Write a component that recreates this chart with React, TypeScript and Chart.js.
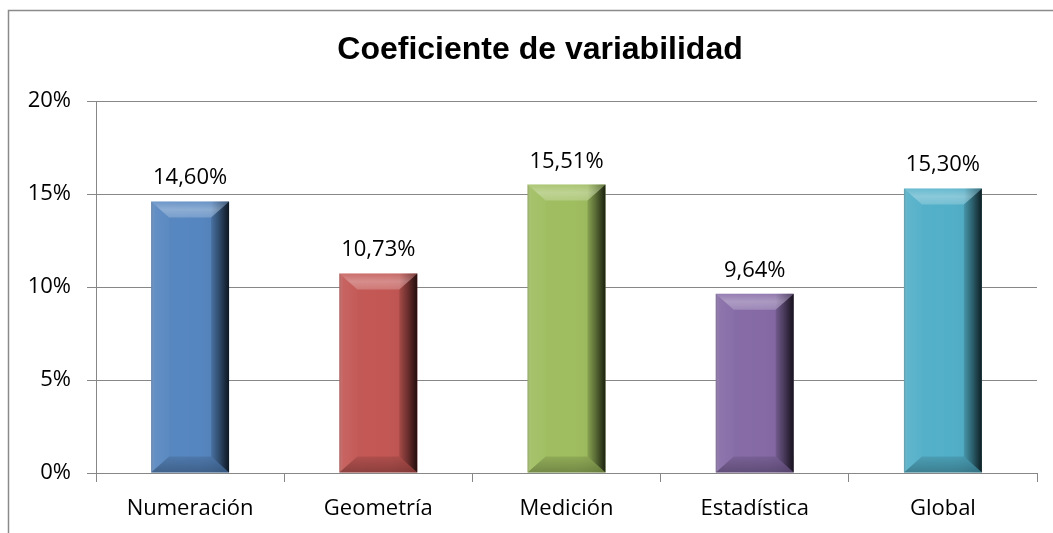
import React, { useEffect, useRef } from "react";
import { Chart, registerables } from "chart.js";

Chart.register(...registerables);

const titleText = "Coeficiente de variabilidad";
const categories = ["Numeración", "Geometría", "Medición", "Estadística", "Global"];
const values = [14.6, 10.73, 15.51, 9.64, 15.3];
const barColors = ["#4F81BD", "#C0504D", "#9BBB59", "#8064A2", "#4BACC6"];
const yMin = 0;
const yMax = 20;
const yStep = 5;

const GRID = "#878787";

const framePlugin = {
  id: "frame",
  afterLayout(chart: any) {
    const tb = chart.titleBlock;
    if (tb) {
      tb.left = 43;
      tb.right = 1037;
      tb.width = tb.right - tb.left;
    }
  },
  beforeDraw(chart: any) {
    const ctx = chart.ctx;
    ctx.save();
    ctx.fillStyle = "#ffffff";
    ctx.fillRect(0, 0, chart.width, chart.height);
    ctx.strokeStyle = "#8a8a8a";
    ctx.lineWidth = 1.5;
    ctx.beginPath();
    ctx.moveTo(8.5, chart.height + 5);
    ctx.lineTo(8.5, 10.5);
    ctx.lineTo(chart.width + 5, 10.5);
    ctx.stroke();
    ctx.restore();
  },
};

function poly(ctx: any, pts: number[][], fill: any) {
  ctx.beginPath();
  ctx.moveTo(pts[0][0], pts[0][1]);
  for (let i = 1; i < pts.length; i++) ctx.lineTo(pts[i][0], pts[i][1]);
  ctx.closePath();
  ctx.fillStyle = fill;
  ctx.fill();
}

const bevelPlugin = {
  id: "bevel",
  afterDatasetsDraw(chart: any) {
    const ctx = chart.ctx;
    const meta = chart.getDatasetMeta(0);
    ctx.save();
    meta.data.forEach((bar: any, i: number) => {
      const p = bar.getProps(["x", "y", "base", "width"], true);
      const l = p.x - p.width / 2;
      const r = p.x + p.width / 2;
      const t = Math.min(p.y, p.base);
      const b = Math.max(p.y, p.base);
      const dx = 18;
      const dy = 16;
      // face shading: slightly darker towards right
      const fg = ctx.createLinearGradient(l, 0, r, 0);
      fg.addColorStop(0, "rgba(255,255,255,0.06)");
      fg.addColorStop(0.6, "rgba(255,255,255,0.04)");
      fg.addColorStop(1, "rgba(0,0,0,0.1)");
      ctx.fillStyle = fg;
      ctx.fillRect(l, t, r - l, b - t);
      // left side
      const lg = ctx.createLinearGradient(l, 0, l + dx, 0);
      lg.addColorStop(0, "rgba(110,110,110,0.35)");
      lg.addColorStop(0.2, "rgba(255,255,255,0.06)");
      lg.addColorStop(1, "rgba(255,255,255,0.02)");
      poly(ctx, [[l, t], [l + dx, t + dy], [l + dx, b - dy], [l, b]], lg);
      // right side
      const rg = ctx.createLinearGradient(r - dx, 0, r, 0);
      rg.addColorStop(0, "rgba(0,0,0,0.12)");
      rg.addColorStop(0.45, "rgba(0,0,0,0.4)");
      rg.addColorStop(1, "rgba(0,0,0,0.8)");
      poly(ctx, [[r, t], [r - dx, t + dy], [r - dx, b - dy], [r, b]], rg);
      // top
      const tg = ctx.createLinearGradient(0, t, 0, t + dy);
      tg.addColorStop(0, "rgba(255,255,255,0.12)");
      tg.addColorStop(0.5, "rgba(255,255,255,0.32)");
      tg.addColorStop(1, "rgba(255,255,255,0.2)");
      poly(ctx, [[l, t], [r, t], [r - dx, t + dy], [l + dx, t + dy]], tg);
      const tr = ctx.createLinearGradient(r - dx, 0, r, 0);
      tr.addColorStop(0, "rgba(0,0,0,0)");
      tr.addColorStop(1, "rgba(0,0,0,0.35)");
      poly(ctx, [[r - dx, t], [r, t], [r - dx, t + dy]], tr);
      // bottom
      const bg = ctx.createLinearGradient(0, b - dy, 0, b);
      bg.addColorStop(0, "rgba(0,0,0,0.1)");
      bg.addColorStop(1, "rgba(0,0,0,0.28)");
      poly(ctx, [[l, b], [r, b], [r - dx, b - dy], [l + dx, b - dy]], bg);
      // value label
      ctx.fillStyle = "#000000";
      ctx.font = '22px "Open Sans"';
      ctx.textAlign = "center";
      ctx.textBaseline = "alphabetic";
      const label = values[i].toFixed(2).replace(".", ",") + "%";
      ctx.fillText(label, p.x, t - 17);
    });
    ctx.restore();
  },
};

export default function App() {
  const ref = useRef<HTMLCanvasElement | null>(null);
  useEffect(() => {
    document.body.style.margin = "0";
    if (!ref.current) return;
    const chart = new Chart(ref.current, {
      type: "bar",
      data: {
        labels: categories,
        datasets: [
          {
            data: values,
            backgroundColor: barColors,
            borderWidth: 0,
            barPercentage: 0.414,
            categoryPercentage: 1,
          },
        ],
      },
      options: {
        responsive: false,
        animation: false,
        layout: { padding: { left: 0, right: 16, top: 0, bottom: 0 } },
        plugins: {
          legend: { display: false },
          tooltip: { enabled: false },
          title: {
            display: true,
            text: titleText,
            color: "#000000",
            font: { family: '"Liberation Sans", Arial, sans-serif', size: 32, weight: "bold" },
            padding: { top: 31.4, bottom: 31.2 },
          },
        },
        scales: {
          x: {
            afterFit: (s: any) => {
              s.height = 60;
            },
            grid: {
              offset: true,
              drawOnChartArea: false,
              drawTicks: true,
              tickLength: 9,
              color: GRID,
            },
            border: { color: GRID, width: 1 },
            ticks: {
              color: "#000000",
              padding: 14,
              font: { family: '"Open Sans"', size: 22 },
            },
          },
          y: {
            min: yMin,
            max: yMax,
            afterFit: (s: any) => {
              s.width = 96;
            },
            grid: {
              color: GRID,
              tickLength: 9,
              drawTicks: true,
            },
            border: { color: GRID, width: 1 },
            ticks: {
              stepSize: yStep,
              color: "#000000",
              padding: 16,
              font: { family: '"Open Sans"', size: 22 },
              callback: (v: any) => `${v}%`,
            },
          },
        },
      },
      plugins: [framePlugin, bevelPlugin],
    });
    return () => chart.destroy();
  }, []);
  return (
    <div style={{ width: 1053, height: 533 }}>
      <canvas ref={ref} width={1053} height={533} />
    </div>
  );
}
